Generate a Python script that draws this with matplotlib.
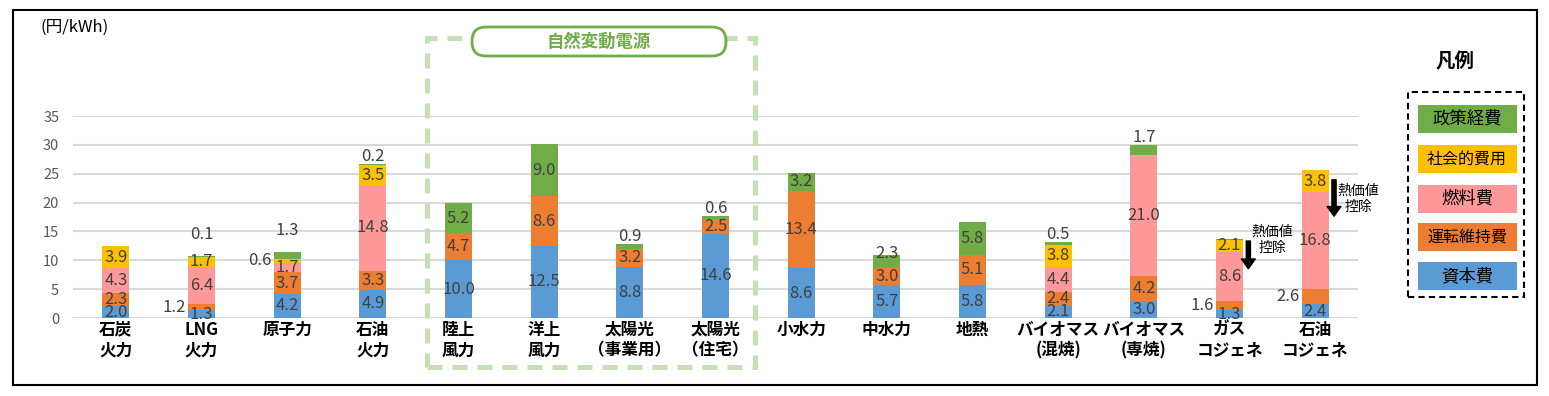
import matplotlib
matplotlib.use("Agg")
import matplotlib.pyplot as plt
from matplotlib.patches import Rectangle, FancyBboxPatch
from matplotlib.transforms import Affine2D
import numpy as np

plt.rcParams['font.family'] = ['Noto Sans CJK JP', 'DejaVu Sans']

# data (円/kWh)
categories = ["石炭\n火力", "LNG\n火力", "原子力", "石油\n火力", "陸上\n風力", "洋上\n風力",
              "太陽光\n（事業用）", "太陽光\n（住宅）", "小水力", "中水力", "地熱",
              "バイオマス\n(混焼)", "バイオマス\n(専焼)", "ガス\nコジェネ", "石油\nコジェネ"]
series_names = ["資本費", "運転維持費", "燃料費", "社会的費用", "政策経費"]
capital = [2.0, 1.3, 4.2, 4.9, 10.0, 12.5, 8.8, 14.6, 8.6, 5.7, 5.8, 2.1, 3.0, 1.3, 2.4]
om_cost = [2.3, 1.2, 3.7, 3.3, 4.7, 8.6, 3.2, 2.5, 13.4, 3.0, 5.1, 2.4, 4.2, 1.6, 2.6]
fuel = [4.3, 6.4, 1.7, 14.8, 0, 0, 0, 0, 0, 0, 0, 4.4, 21.0, 8.6, 16.8]
social = [3.9, 1.7, 0.6, 3.5, 0, 0, 0, 0, 0, 0, 0, 3.8, 0, 2.1, 3.8]
policy = [0.04, 0.1, 1.3, 0.2, 5.2, 9.0, 0.9, 0.6, 3.2, 2.3, 5.8, 0.5, 1.7, 0.04, 0.04]
colors = ["#5B9BD5", "#ED7D31", "#FF9999", "#FFC000", "#70AD47"]

# labels drawn left of the bar: (category index, series index)
left_labels = {(1, 1), (2, 3), (13, 1), (14, 1)}
# extra lift for labels above the bar
top_lift = {1: 2.4, 2: 2.4, 9: -1.1}

W, H = 1549, 396
fig = plt.figure(figsize=(W / 100, H / 100), dpi=100)
px = Affine2D().scale(1 / W, 1 / H) + fig.transFigure

ax = fig.add_axes([73 / W, 1 - 318 / H, (1358 - 73) / W, (318 - 116) / H])

data = [capital, om_cost, fuel, social, policy]
x = np.arange(len(categories))
bw = 0.315
bottom = np.zeros(len(categories))
totals = np.sum(data, axis=0)
for s, vals in enumerate(data):
    vals = np.array(vals, dtype=float)
    ax.bar(x, vals, bw, bottom=bottom, color=colors[s], zorder=3)
    for i, v in enumerate(vals):
        if v < 0.095:
            continue
        is_top = all(data[k][i] == 0 for k in range(s + 1, 5))
        if (i, s) in left_labels:
            ax.text(x[i] - bw / 2 - 0.02, bottom[i] + v / 2, f"{v:.1f}", ha='right', va='center',
                    fontsize=12, color='#404040', zorder=4)
        elif is_top and v < 2.5:
            ax.text(x[i], totals[i] + 1.3 + top_lift.get(i, 0), f"{v:.1f}", ha='center', va='center',
                    fontsize=12, color='#404040', zorder=4)
        else:
            ax.text(x[i], bottom[i] + v / 2, f"{v:.1f}", ha='center', va='center',
                    fontsize=12, color='#404040', zorder=4)
    bottom += vals

ax.set_xlim(-0.5, len(categories) - 0.5)
ax.set_ylim(0, 35)
ax.set_yticks(range(0, 36, 5))
ax.yaxis.grid(True, color='#D9D9D9', linewidth=1.5, zorder=0)
ax.set_axisbelow(True)
for sp in ax.spines.values():
    sp.set_visible(False)
ax.tick_params(axis='both', length=0)
ax.tick_params(axis='y', labelsize=10.5, labelcolor='#595959', pad=10)
ax.set_xticks(x)
ax.set_xticklabels(categories, fontsize=12, fontweight='bold', color='black', linespacing=1.2)
ax.tick_params(axis='x', pad=2)

# heat value deduction notes for cogeneration
for i, tail, tip, ty in [(13, 0.3, 5.1, 13.5), (14, 1.7, 8.0, 20.6)]:
    ax.annotate('', xy=(x[i] + 0.22, totals[i] - tip), xytext=(x[i] + 0.22, totals[i] - tail),
                arrowprops=dict(width=3, headwidth=10, headlength=7, color='black'), zorder=5)
    ax.text(x[i] + 0.5, ty, "熱価値\n控除", ha='center', va='center', fontsize=10,
            linespacing=1.2, zorder=5)

# outer frame
fig.add_artist(Rectangle((13, H - 385), 1524, 375, transform=px, fill=False,
                         edgecolor='black', linewidth=1.5))
fig.text(75 / W, 1 - 27 / H, "(円/kWh)", ha='center', va='center', fontsize=12)

# variable renewable group box
fig.add_artist(Rectangle((427, H - 367), 328, 329, transform=px, fill=False,
                         edgecolor='#C5E0B4', linewidth=3.6, linestyle=(0, (3, 2))))
fig.add_artist(FancyBboxPatch((472, H - 56), 254, 29, transform=px,
                              boxstyle="round,pad=0,rounding_size=14",
                              facecolor='white', edgecolor='#70AD47', linewidth=2))
fig.text(599 / W, 1 - 42 / H, "自然変動電源", ha='center', va='center', fontsize=12.5,
         fontweight='bold', color='#70AD47')

# legend
fig.text(1455 / W, 1 - 62 / H, "凡例", ha='center', va='center', fontsize=14, fontweight='bold')
fig.add_artist(Rectangle((1408, H - 297), 116, 205, transform=px, fill=False,
                         edgecolor='black', linewidth=1.5, linestyle=(0, (3, 2))))
item_y = [276, 237, 199, 159, 119]
for name, c, yc in zip(series_names, colors, item_y):
    fig.add_artist(Rectangle((1418, H - yc - 14), 99, 28, transform=px,
                             facecolor=c, edgecolor='none'))
    fs = 11.5 if len(name) > 4 else 12.5
    fig.text(1467 / W, 1 - yc / H, name, ha='center', va='center', fontsize=fs)

fig.savefig("out.png", dpi=100)
